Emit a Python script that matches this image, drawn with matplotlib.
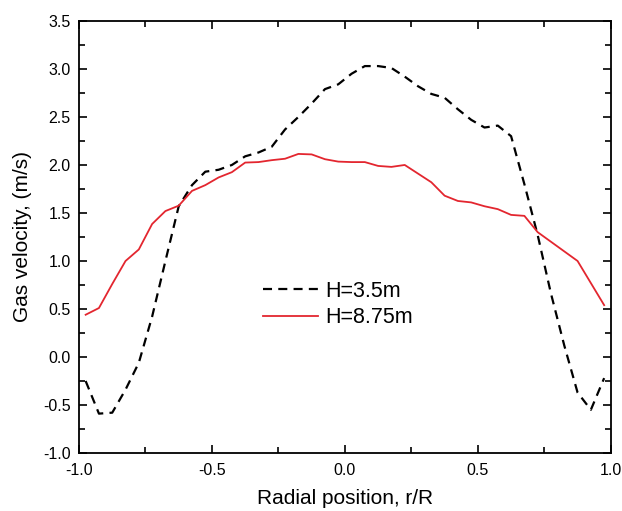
import matplotlib
matplotlib.use('Agg')
import matplotlib.pyplot as plt
import numpy as np
from matplotlib.ticker import MultipleLocator

plt.rcParams['font.family'] = ['Liberation Sans', 'DejaVu Sans']
plt.rcParams['lines.scale_dashes'] = False

# --- Data ---
r_pos = np.round(np.arange(-0.975, 1.0, 0.05), 3)

vel_h35 = [-0.25, -0.59, -0.58, -0.34, -0.06, 0.42, 1.00, 1.57, 1.79, 1.93,
           1.95, 2.00, 2.09, 2.13, 2.19, 2.37, 2.50, 2.64, 2.79, 2.84,
           2.95, 3.03, 3.03, 3.01, 2.92, 2.82, 2.74, 2.70, 2.58, 2.47,
           2.39, 2.41, 2.30, 1.80, 1.27, 0.66, 0.12, -0.37, -0.55, -0.22]

vel_h875 = [0.44, 0.51, 0.76, 1.00, 1.12, 1.385, 1.52, 1.576, 1.73, 1.79,
            1.87, 1.925, 2.025, 2.03, 2.05, 2.065, 2.115, 2.11, 2.06, 2.035,
            2.03, 2.03, 1.99, 1.98, 2.00, 1.91, 1.82, 1.68, 1.625, 1.61,
            1.57, 1.54, 1.48, 1.47, 1.30, 1.20, 1.10, 1.00, 0.77, 0.54]

labels = ['H=3.5m', 'H=8.75m']

# --- Plot ---
fig = plt.figure(figsize=(6.22, 5.11), dpi=100)
ax = fig.add_axes([0.127, 0.1135, 0.855, 0.8455])

ax.plot(r_pos, vel_h35, color='black', linewidth=1.6, dashes=(6.5, 4.5), label=labels[0])
ax.plot(r_pos, vel_h875, color='#e3262f', linewidth=1.3, label=labels[1])

ax.set_xlim(-1.0, 1.0)
ax.set_ylim(-1.0, 3.5)
ax.xaxis.set_major_locator(MultipleLocator(0.5))
ax.xaxis.set_minor_locator(MultipleLocator(0.25))
ax.yaxis.set_major_locator(MultipleLocator(0.5))
ax.yaxis.set_minor_locator(MultipleLocator(0.25))
ax.xaxis.set_major_formatter(plt.FormatStrFormatter('%.1f'))
ax.yaxis.set_major_formatter(plt.FormatStrFormatter('%.1f'))

ax.tick_params(which='both', direction='in', top=True, right=True, width=1.2)
ax.tick_params(which='major', length=6, labelsize=11.5)
ax.tick_params(axis='x', which='major', pad=7)
ax.tick_params(axis='y', which='major', pad=6)
ax.tick_params(which='minor', length=4)
for s in ax.spines.values():
    s.set_linewidth(1.3)

ax.set_xlabel('Radial position, r/R', fontsize=15, labelpad=8)
ax.set_ylabel('Gas velocity, (m/s)', fontsize=15, labelpad=8)

ax.legend(loc='center', bbox_to_anchor=(0.487, 0.344), frameon=False,
          fontsize=15.5, handlelength=2.55, handletextpad=0.35, labelspacing=0.25)

fig.savefig('out.png', dpi=100)
